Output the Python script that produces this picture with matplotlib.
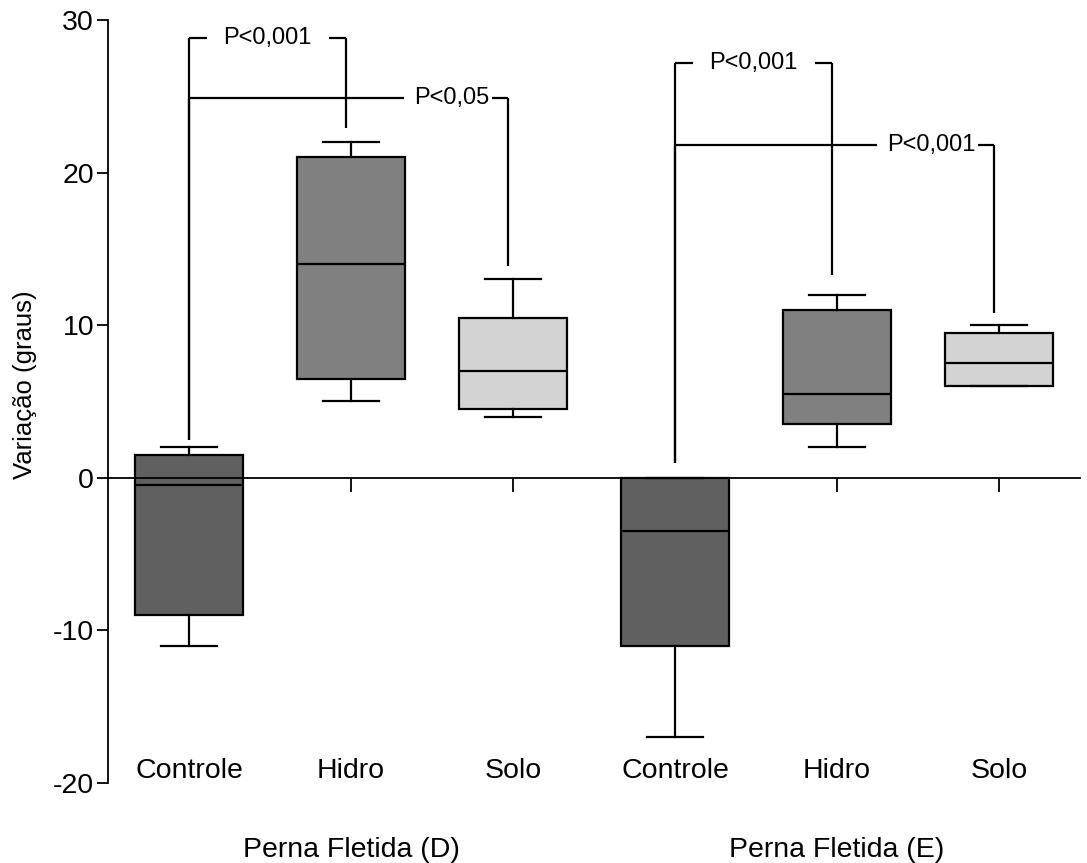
import matplotlib
matplotlib.use("Agg")
import matplotlib.pyplot as plt
from matplotlib.transforms import blended_transform_factory

plt.rcParams['font.family'] = ['Liberation Sans', 'DejaVu Sans']

# ---- data ----
categories = ["Controle", "Hidro", "Solo", "Controle", "Hidro", "Solo"]
groups = ["Perna Fletida (D)", "Perna Fletida (E)"]
whislo = [-11, 5, 4, -17, 2, 6]
q1 = [-9, 6.5, 4.5, -11, 3.5, 6]
med = [-0.5, 14, 7, -3.5, 5.5, 7.5]
q3 = [1.5, 21, 10.5, 0, 11, 9.5]
whishi = [2, 22, 13, 0, 12, 10]
box_colors = ["#606060", "#808080", "#d3d3d3", "#606060", "#808080", "#d3d3d3"]
yticks = [-20, -10, 0, 10, 20, 30]

# comparisons: (left idx, right idx, bracket height, left leg bottom, right leg bottom, label)
comparisons = [
    (1, 2, 28.8, 2.5, 22.9, "P<0,001"),
    (1, 3, 24.9, 2.5, 13.9, "P<0,05"),
    (4, 5, 27.2, 1.0, 13.3, "P<0,001"),
    (4, 6, 21.8, 1.0, 10.8, "P<0,001"),
]

positions = list(range(1, len(categories) + 1))

fig = plt.figure(figsize=(10.87, 8.63), dpi=100)
ax = fig.add_axes([108/1087, 1 - 783/863, (1080 - 108)/1087, (783 - 20)/863])

stats = []
for i in range(len(categories)):
    stats.append(dict(whislo=whislo[i], q1=q1[i], med=med[i], q3=q3[i],
                      whishi=whishi[i], fliers=[]))

bp = ax.bxp(stats, positions=positions, widths=0.667, capwidths=0.345,
            patch_artist=True, showfliers=False,
            boxprops=dict(linewidth=1.6, edgecolor='black'),
            medianprops=dict(color='black', linewidth=1.6),
            whiskerprops=dict(color='black', linewidth=1.6),
            capprops=dict(color='black', linewidth=1.6))
for patch, c in zip(bp['boxes'], box_colors):
    patch.set_facecolor(c)

ax.set_xlim(0.5, 6.5)
ax.set_ylim(-20, 30)
ax.set_yticks(yticks)
ax.set_yticklabels([str(t) for t in yticks], fontsize=20.5)
ax.tick_params(axis='y', direction='out', length=8, width=1.3, pad=2)

ax.spines['top'].set_visible(False)
ax.spines['right'].set_visible(False)
ax.spines['bottom'].set_position(('data', 0))
ax.spines['bottom'].set_linewidth(1.3)
ax.spines['left'].set_linewidth(1.3)
ax.set_xticks(positions)
ax.set_xticklabels([])
ax.tick_params(axis='x', direction='out', length=10, width=1.3)

ax.set_ylabel("Variação (graus)", fontsize=18.5)
ax.yaxis.set_label_coords(-0.073, 0.5216)

# category labels
for p, c in zip(positions, categories):
    ax.text(p, -19.2, c, ha='center', va='center', fontsize=20.5, clip_on=False)

# group labels
trans = blended_transform_factory(ax.transData, fig.transFigure)
for gi, g in enumerate(groups):
    ax.text(positions[gi*3 + 1], 1 - 850/863, g, ha='center', va='center',
            fontsize=20.5, transform=trans, clip_on=False)

# significance brackets
lw = 1.6
px = 1.0 / 162.0  # approx data units per pixel along x
fig.canvas.draw()
for (a, b, h, lb, rb, lab) in comparisons:
    xa = positions[a - 1]
    xb = positions[b - 1] - 0.03
    ax.plot([xa, xa], [lb, h], color='black', lw=lw, solid_capstyle='butt')
    ax.plot([xb, xb], [rb, h], color='black', lw=lw, solid_capstyle='butt')
    if b - a == 1:
        txt = ax.text((xa + xb) / 2, h, lab, ha='center', va='center', fontsize=17)
        fig.canvas.draw()
        bb = txt.get_window_extent().transformed(ax.transData.inverted())
        ax.plot([xa, bb.x0 - 16 * px], [h, h], color='black', lw=lw, solid_capstyle='butt')
        ax.plot([bb.x1 + 17 * px, xb], [h, h], color='black', lw=lw, solid_capstyle='butt')
    else:
        txt = ax.text(xb - 19 * px, h, lab, ha='right', va='center', fontsize=17)
        fig.canvas.draw()
        bb = txt.get_window_extent().transformed(ax.transData.inverted())
        ax.plot([xa, bb.x0 - 10 * px], [h, h], color='black', lw=lw, solid_capstyle='butt')
        ax.plot([bb.x1 + 3 * px, xb], [h, h], color='black', lw=lw, solid_capstyle='butt')

fig.savefig("out.png", dpi=100)
